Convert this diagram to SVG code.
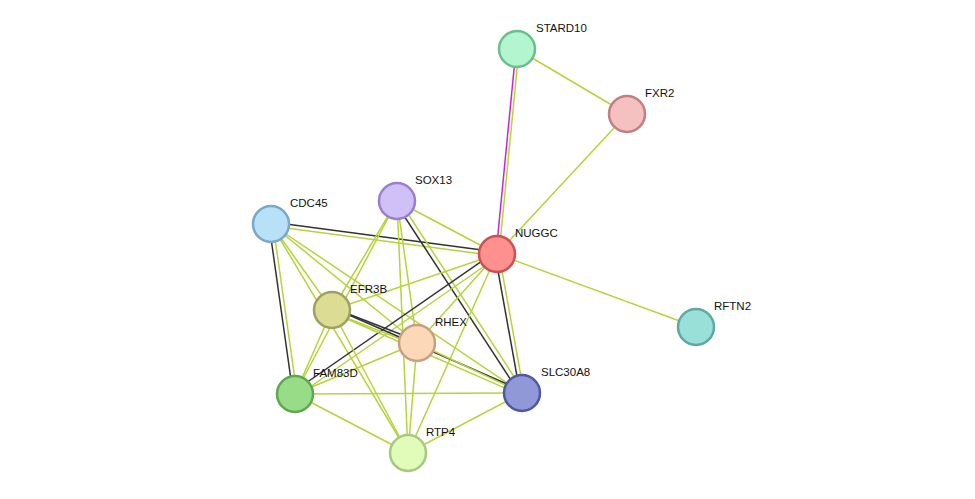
<svg xmlns="http://www.w3.org/2000/svg" width="975" height="499" viewBox="0 0 975 499">
<style>
.g{stroke:#b5d43a;stroke-width:1.5;fill:none}
.k{stroke:#333;stroke-width:1.5;fill:none}
.m{stroke:#d020d0;stroke-width:1.5;fill:none}
.n{stroke-width:2.5}
text{font-family:"Liberation Sans",Arial,sans-serif;font-size:11.5px;fill:#111}
</style>
<rect width="975" height="499" fill="#fff"/>
<g id="connectors">
<line class="m" x1="516" y1="49" x2="496" y2="254"/><line class="g" x1="519" y1="49" x2="499" y2="254"/>
<line class="g" x1="517" y1="49" x2="627" y2="114"/>
<line class="g" x1="627" y1="114" x2="497" y2="254"/>
<line class="g" x1="497" y1="254" x2="696" y2="327"/>
<line class="k" x1="271" y1="222" x2="497" y2="252"/><line class="g" x1="271" y1="226" x2="497" y2="256"/>
<line class="k" x1="269" y1="224" x2="293" y2="394"/><line class="g" x1="273" y1="224" x2="297" y2="394"/>
<line class="g" x1="271" y1="224" x2="332" y2="310"/>
<line class="g" x1="271" y1="224" x2="417" y2="343"/>
<line class="g" x1="271" y1="224" x2="408" y2="453"/>
<line class="g" x1="271" y1="224" x2="522" y2="393"/>
<line class="g" x1="397" y1="201" x2="497" y2="254"/>
<line class="k" x1="395" y1="202" x2="520" y2="394"/><line class="g" x1="399" y1="200" x2="524" y2="392"/>
<line class="g" x1="397" y1="201" x2="332" y2="310"/>
<line class="g" x1="397" y1="201" x2="295" y2="394"/>
<line class="g" x1="397" y1="201" x2="417" y2="343"/>
<line class="g" x1="397" y1="201" x2="408" y2="453"/>
<line class="g" x1="497" y1="254" x2="332" y2="310"/>
<line class="g" x1="497" y1="254" x2="417" y2="343"/>
<line class="k" x1="495" y1="252" x2="293" y2="392"/><line class="g" x1="499" y1="256" x2="297" y2="396"/>
<line class="k" x1="495" y1="254" x2="520" y2="393"/><line class="g" x1="499" y1="254" x2="524" y2="393"/>
<line class="g" x1="497" y1="254" x2="408" y2="453"/>
<line class="k" x1="333" y1="308" x2="418" y2="341"/><line class="g" x1="331" y1="312" x2="416" y2="345"/>
<line class="k" x1="333" y1="308" x2="523" y2="391"/><line class="g" x1="331" y1="312" x2="521" y2="395"/>
<line class="g" x1="332" y1="310" x2="295" y2="394"/>
<line class="g" x1="332" y1="310" x2="408" y2="453"/>
<line class="g" x1="417" y1="343" x2="295" y2="394"/>
<line class="g" x1="417" y1="343" x2="522" y2="393"/>
<line class="g" x1="417" y1="343" x2="408" y2="453"/>
<line class="g" x1="295" y1="394" x2="522" y2="393"/>
<line class="g" x1="295" y1="394" x2="408" y2="453"/>
<line class="g" x1="522" y1="393" x2="408" y2="453"/>
</g>
<g id="STARD10"><circle class="n" cx="517" cy="49" r="18" fill="#b3f5cf" stroke="#6cbf8c"/><text x="536" y="32">STARD10</text></g>
<g id="FXR2"><circle class="n" cx="627" cy="114" r="18" fill="#f5c0c0" stroke="#c08080"/><text x="645" y="97">FXR2</text></g>
<g id="SOX13"><circle class="n" cx="397" cy="201" r="18" fill="#d0c0f8" stroke="#9a80cc"/><text x="415" y="184">SOX13</text></g>
<g id="CDC45"><circle class="n" cx="271" cy="224" r="18" fill="#b8e0f8" stroke="#7aa8c8"/><text x="290" y="207">CDC45</text></g>
<g id="NUGGC"><circle class="n" cx="497" cy="254" r="18" fill="#ff9090" stroke="#cc5050"/><text x="515" y="237">NUGGC</text></g>
<g id="EFR3B"><circle class="n" cx="332" cy="310" r="18" fill="#dcdc94" stroke="#a0a060"/><text x="350" y="293">EFR3B</text></g>
<g id="RHEX"><circle class="n" cx="417" cy="343" r="18" fill="#fcd8b8" stroke="#c8a080"/><text x="435" y="326">RHEX</text></g>
<g id="RFTN2"><circle class="n" cx="696" cy="327" r="18" fill="#98e0d8" stroke="#60a8a0"/><text x="714" y="310">RFTN2</text></g>
<g id="FAM83D"><circle class="n" cx="295" cy="394" r="18" fill="#98dc88" stroke="#60a850"/><text x="313" y="377">FAM83D</text></g>
<g id="SLC30A8"><circle class="n" cx="522" cy="393" r="18" fill="#9098d8" stroke="#5058a0"/><text x="541" y="376">SLC30A8</text></g>
<g id="RTP4"><circle class="n" cx="408" cy="453" r="18" fill="#e0fcb8" stroke="#a8c880"/><text x="426" y="436">RTP4</text></g>
</svg>
